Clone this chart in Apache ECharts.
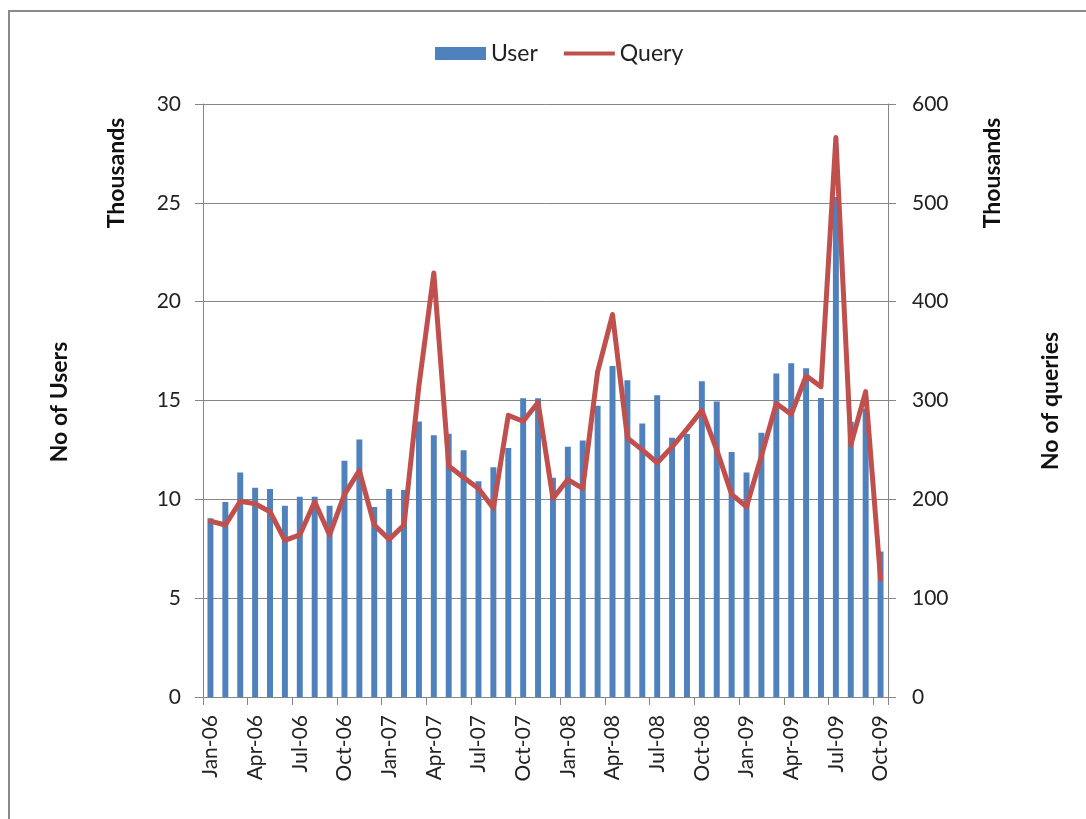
<!DOCTYPE html>
<html>
<head>
<meta charset="utf-8">
<style>
  html, body { margin: 0; padding: 0; background: #fff; }
  #chart { width: 1086px; height: 819px; }
</style>
<script src="https://cdn.jsdelivr.net/npm/echarts@6/dist/echarts.min.js"></script>
</head>
<body>
<div id="chart"></div>
<script>
const months = [
  'Jan-06','Feb-06','Mar-06','Apr-06','May-06','Jun-06','Jul-06','Aug-06','Sep-06','Oct-06','Nov-06','Dec-06',
  'Jan-07','Feb-07','Mar-07','Apr-07','May-07','Jun-07','Jul-07','Aug-07','Sep-07','Oct-07','Nov-07','Dec-07',
  'Jan-08','Feb-08','Mar-08','Apr-08','May-08','Jun-08','Jul-08','Aug-08','Sep-08','Oct-08','Nov-08','Dec-08',
  'Jan-09','Feb-09','Mar-09','Apr-09','May-09','Jun-09','Jul-09','Aug-09','Sep-09','Oct-09'
];
// Users, thousands (left axis)
const users = [
  9.04, 9.86, 11.36, 10.59, 10.52, 9.68, 10.13, 10.13, 9.68, 11.95, 13.03, 9.61,
  10.52, 10.47, 13.94, 13.24, 13.32, 12.48, 10.91, 11.62, 12.6, 15.12, 15.12, 11.09,
  12.66, 12.98, 14.74, 16.74, 16.03, 13.84, 15.26, 13.12, 13.31, 15.98, 14.95, 12.39,
  11.36, 13.37, 16.37, 16.88, 16.63, 15.13, 25.3, 13.93, 14.6, 7.36
];
// Queries, thousands (right axis)
const queries = [
  178, 174, 198, 195.6, 187.5, 158.5, 164, 197.6, 164, 205, 229, 174,
  159.5, 174, 315, 429, 233.7, 222, 211, 191, 285, 279, 298, 201,
  220, 211, 329, 387, 262, 250, 237, 253, 271, 290, 250, 205,
  192.5, 244, 297, 286, 325, 314, 566, 255, 309, 119.5
];
const leftTicks = { min: 0, max: 30, interval: 5 };
const rightTicks = { min: 0, max: 600, interval: 100 };

const FONT = 'Lato, "Open Sans", sans-serif';
const FS = 21;
const TFS = 23;
const axisGray = '#868686';

const chart = echarts.init(document.getElementById('chart'), null, { renderer: 'canvas' });
chart.setOption({
  backgroundColor: '#fff',
  animation: false,
  textStyle: { fontFamily: FONT },
  legend: {
    top: 37,
    left: 430,
    itemWidth: 51,
    itemHeight: 13,
    itemGap: 26,
    textStyle: { fontFamily: FONT, fontSize: 23, color: '#222' },
    data: [
      { name: 'User', icon: 'rect' },
      { name: 'Query', icon: 'path://M0,0h0.01v0.01h-0.01z M0,4.5h51v4h-51z M0,12.99h0.01v0.01h-0.01z' }
    ]
  },
  grid: { left: 203, right: 198, top: 104, bottom: 122, containLabel: false },
  xAxis: {
    type: 'category',
    data: months,
    boundaryGap: true,
    axisLine: { show: true, lineStyle: { color: axisGray, width: 1 } },
    axisTick: { show: true, interval: 2, length: 8, lineStyle: { color: axisGray } },
    axisLabel: {
      interval: 2,
      rotate: 90,
      margin: 18,
      fontFamily: FONT,
      fontSize: FS,
      color: '#222'
    },
    splitLine: { show: false }
  },
  yAxis: [
    {
      type: 'value',
      min: leftTicks.min, max: leftTicks.max, interval: leftTicks.interval,
      position: 'left',
      axisLine: { show: true, lineStyle: { color: axisGray } },
      axisTick: { show: true, length: 8, lineStyle: { color: axisGray } },
      axisLabel: { margin: 22, fontFamily: FONT, fontSize: FS, color: '#222' },
      splitLine: { show: true, lineStyle: { color: axisGray, width: 1 } }
    },
    {
      type: 'value',
      min: rightTicks.min, max: rightTicks.max, interval: rightTicks.interval,
      position: 'right',
      axisLine: { show: true, lineStyle: { color: axisGray } },
      axisTick: { show: true, length: 8, lineStyle: { color: axisGray } },
      axisLabel: { margin: 24, fontFamily: FONT, fontSize: FS, color: '#222' },
      splitLine: { show: false }
    }
  ],
  series: [
    {
      name: 'User',
      type: 'bar',
      yAxisIndex: 0,
      data: users,
      barWidth: '40%',
      itemStyle: { color: '#4F81BD' }
    },
    {
      name: 'Query',
      type: 'line',
      yAxisIndex: 1,
      data: queries,
      symbol: 'none',
      lineStyle: { color: '#C0504D', width: 5, join: 'round', cap: 'round' },
      itemStyle: { color: '#C0504D' },
      z: 3
    }
  ],
  graphic: [
    {
      type: 'polyline',
      shape: { points: [[9, 830], [9, 11], [1100, 11]] },
      style: { stroke: '#8a8a8a', lineWidth: 2, fill: null },
      silent: true
    },
    {
      type: 'text', x: 60, y: 402, rotation: Math.PI / 2,
      style: { text: 'No of Users', fontFamily: FONT, fontSize: TFS, fontWeight: 'bold', fill: '#111', align: 'center', verticalAlign: 'middle' }
    },
    {
      type: 'text', x: 117, y: 173, rotation: Math.PI / 2,
      style: { text: 'Thousands', fontFamily: FONT, fontSize: TFS, fontWeight: 'bold', fill: '#111', align: 'center', verticalAlign: 'middle' }
    },
    {
      type: 'text', x: 993, y: 173, rotation: Math.PI / 2,
      style: { text: 'Thousands', fontFamily: FONT, fontSize: TFS, fontWeight: 'bold', fill: '#111', align: 'center', verticalAlign: 'middle' }
    },
    {
      type: 'text', x: 1051, y: 401, rotation: Math.PI / 2,
      style: { text: 'No of queries', fontFamily: FONT, fontSize: TFS, fontWeight: 'bold', fill: '#111', align: 'center', verticalAlign: 'middle' }
    }
  ]
});
</script>
</body>
</html>
